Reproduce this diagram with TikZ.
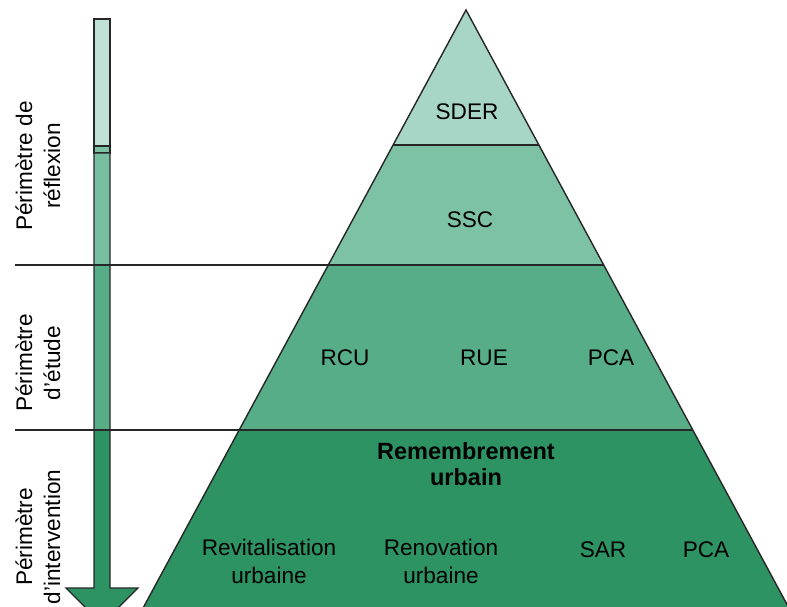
\documentclass[tikz,border=0pt]{standalone}
\usepackage{fontspec}
\setmainfont{Liberation Sans}
\usepackage{xcolor}
\usetikzlibrary{positioning}

\definecolor{vertPale}{RGB}{192,226,214}
\definecolor{vertSDER}{RGB}{168,214,198}
\definecolor{vertSSC}{RGB}{126,194,166}
\definecolor{vertEtude}{RGB}{86,173,136}
\definecolor{vertInterv}{RGB}{46,147,98}

\begin{document}
\begin{tikzpicture}[x=1pt, y=-1pt,
		trait/.style={line width=1.4pt, draw=black!85},
		etiquette/.style={font=\fontsize{22.6}{28}\selectfont, align=center, inner sep=0pt},
		perimetre/.style={etiquette, rotate=90}]
		\useasboundingbox (0,0) rectangle (787,607);

		% pyramide
		\coordinate (Sommet) at (466,10);
		\coordinate (G1) at (393.1,145);   \coordinate (D1) at (538.9,145);
		\coordinate (G2) at (328.3,265);   \coordinate (D2) at (603.7,265);
		\coordinate (G3) at (239.2,430);   \coordinate (D3) at (692.8,430);
		\coordinate (G4) at (136.6,620);   \coordinate (D4) at (795.4,620);

		\fill[vertSDER] (Sommet) -- (D1) -- (G1) -- cycle;
		\fill[vertSSC] (G1) -- (D1) -- (D2) -- (G2) -- cycle;
		\fill[vertEtude] (G2) -- (D2) -- (D3) -- (G3) -- cycle;
		\fill[vertInterv] (G3) -- (D3) -- (D4) -- (G4) -- cycle;

		% fleche
		\fill[vertPale, trait] (94,19) rectangle (110,146);
		\fill[vertSSC, trait] (94,146) rectangle (110,153);
		\begin{scope}
			\clip (94,153) -- (110,153) -- (110,588) -- (138,588) -- (102,624)
				-- (66,588) -- (94,588) -- cycle;
			\fill[vertSSC!85!vertEtude] (60,153) rectangle (145,265);
			\fill[vertEtude] (60,265) rectangle (145,430);
			\fill[vertInterv] (60,430) rectangle (145,630);
		\end{scope}
		\draw[trait] (94,153) -- (110,153) -- (110,588) -- (138,588) -- (102,624)
			-- (66,588) -- (94,588) -- cycle;

		% separations
		\coordinate (L2) at (15,265);
		\coordinate (L3) at (15,430);
		\draw[trait] (G4) -- (Sommet) -- (D4);
		\draw[trait] (G1) -- (D1);
		\draw[trait] (L2) -- (D2);
		\draw[trait] (L3) -- (D3);

		% textes
		\node[etiquette] (SDER) at (467,112) {SDER};
		\node[etiquette] (SSC) at (470,220) {SSC};
		\node[etiquette] (RCU) at (345,358) {RCU};
		\node[etiquette] (RUE) at (484,358) {RUE};
		\node[etiquette] (PCA etude) at (611,358) {PCA};
		\node[etiquette, font=\fontsize{23.5}{26}\selectfont\bfseries] (Remembrement) at (466,464) {Remembrement\\urbain};
		\node[etiquette] (Revitalisation) at (269,561) {Revitalisation\\urbaine};
		\node[etiquette] (Renovation) at (441,561) {Renovation\\urbaine};
		\node[etiquette] (SAR) at (603,550) {SAR};
		\node[etiquette] (PCA interv) at (706,550) {PCA};

		\node[perimetre] (Reflexion) at (38,166) {Périmètre de\\réflexion};
		\node[perimetre] (Etude) at (38,363) {Périmètre\\d'étude};
		\node[perimetre] (Intervention) at (38,537) {Périmètre\\d'intervention};
	\end{tikzpicture}
\end{document}
